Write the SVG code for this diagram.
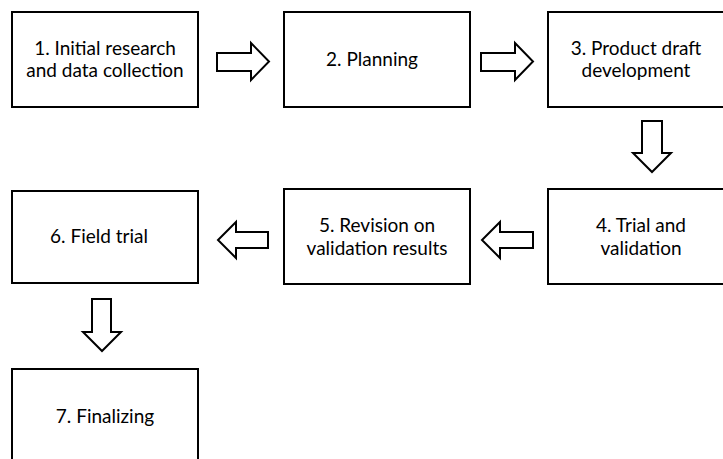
<svg xmlns="http://www.w3.org/2000/svg" width="723" height="459" viewBox="0 0 723 459">
<style>
.box{fill:#fff;stroke:#000;stroke-width:2}
.arr{fill:#fff;stroke:#000;stroke-width:2;stroke-linejoin:miter}
text{font-family:Lato,"Open Sans","Liberation Sans",sans-serif;font-size:19px;fill:#000;text-anchor:middle}
</style>
<rect width="723" height="459" fill="#fff"/>
<g id="connectors">
<polygon class="arr" points="217,53 251,53 251,43 269,61.5 251,80 251,71 217,71"/>
<polygon class="arr" points="481,53 515,53 515,43 533,61.5 515,80 515,71 481,71"/>
<polygon class="arr" points="642,121 662,121 662,153 671,153 652,172 633,153 642,153"/>
<polygon class="arr" points="533,232 500,232 500,222 482,240 500,258 500,248 533,248"/>
<polygon class="arr" points="268,232 236,232 236,222 218,240 236,258 236,248 268,248"/>
<polygon class="arr" points="92,299 111,299 111,332 121,332 102,351 83,332 92,332"/>
</g>
<g id="node1">
<rect class="box" x="12" y="12" width="186" height="95"/>
<text x="105" y="55">1. Initial research</text>
<text x="105" y="77">and data collection</text>
</g>
<g id="node2">
<rect class="box" x="284" y="12" width="186" height="95"/>
<text x="372" y="66">2. Planning</text>
</g>
<g id="node3">
<rect class="box" x="548" y="12" width="186" height="95"/>
<text x="636" y="55">3. Product draft</text>
<text x="636" y="77">development</text>
</g>
<g id="node4">
<rect class="box" x="548" y="189" width="186" height="95"/>
<text x="641" y="232">4. Trial and</text>
<text x="641" y="255">validation</text>
</g>
<g id="node5">
<rect class="box" x="284" y="189" width="186" height="95"/>
<text x="377" y="232">5. Revision on</text>
<text x="377" y="255">validation results</text>
</g>
<g id="node6">
<rect class="box" x="12" y="191" width="186" height="92"/>
<text x="99" y="243">6. Field trial</text>
</g>
<g id="node7">
<rect class="box" x="12" y="369" width="186" height="96"/>
<text x="105" y="423">7. Finalizing</text>
</g>
</svg>
